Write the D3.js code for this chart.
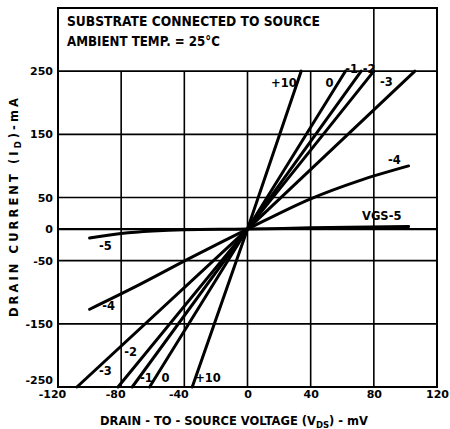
<!DOCTYPE html>
<html>
<head>
<meta charset="utf-8">
<script src="https://cdn.jsdelivr.net/npm/d3@7"></script>
<style>
  body { margin: 0; background: #fff; }
  svg { display: block; }
  text { font-family: "DejaVu Sans", sans-serif; font-weight: bold; fill: #000; }
</style>
</head>
<body>
<svg id="chart" width="450" height="429"></svg>
<script>
// ---- data ----
const vdsTicks = [-120, -80, -40, 0, 40, 80, 120];
const idTicks = [250, 150, 50, 0, -50, -150, -250];
const vgsNames = ["+10", "0", "-1", "-2", "-3", "-4", "-5"];

// [VDS (mV), ID (mA)]
const curveP10 = [[-35, -250], [0, 0], [34, 250]];
const curve0   = [[-62, -250], [0, 0], [62, 250]];
const curveM1  = [[-73, -250], [0, 0], [72, 250]];
const curveM2  = [[-82, -250], [0, 0], [80, 250]];
const curveM3  = [[-108, -250], [0, 0], [106, 250]];
const curveM4  = [[-100, -127], [-70, -90], [-38, -48], [0, 0], [40, 48], [70, 76], [102, 100]];
const curveM5  = [[-100, -14], [-80, -7], [-60, -3], [-40, -1], [0, 0], [40, 2], [102, 4]];

// curve labels: [text, VDS, ID]
const curveLabels = [
  ["+10", 23, 231], ["0", 52, 231], ["-1", 66, 254], ["-2", 77, 254], ["-3", 88, 233],
  ["-4", 93, 109], ["VGS-5", 85, 21],
  ["-5", -90, -27], ["-4", -88, -122], ["-2", -74, -195], ["-3", -90, -225],
  ["-1", -64, -235], ["0", -52, -235], ["+10", -25, -235]
];

const noteLines = ["SUBSTRATE CONNECTED TO SOURCE", "AMBIENT TEMP. = 25°C"];

// ---- chart ----
const svg = d3.select("#chart");
const x = d3.scaleLinear().domain([-120, 120]).range([58, 437]);
const y = d3.scaleLinear().domain([-250, 350]).range([387, 8]);

const g = svg.append("g");

// horizontal grid lines
g.selectAll("line.hgrid").data(idTicks).join("line")
  .attr("class", "hgrid")
  .attr("x1", x(-120)).attr("x2", x(120))
  .attr("y1", d => y(d)).attr("y2", d => y(d))
  .attr("stroke", "#000").attr("stroke-width", d => d === 0 ? 2.2 : 1.6);

// vertical grid lines (interior), 80 extends to top of frame
g.selectAll("line.vgrid").data(vdsTicks.slice(1, -1)).join("line")
  .attr("class", "vgrid")
  .attr("x1", d => x(d)).attr("x2", d => x(d))
  .attr("y1", y(-250)).attr("y2", d => d === 80 ? y(350) : y(250))
  .attr("stroke", "#000").attr("stroke-width", 1.6);

// frame
g.append("rect")
  .attr("x", x(-120)).attr("y", y(350))
  .attr("width", x(120) - x(-120)).attr("height", y(-250) - y(350))
  .attr("fill", "none").attr("stroke", "#000").attr("stroke-width", 2);

// axes (labels only)
const xAxis = d3.axisBottom(x).tickValues(vdsTicks).tickSize(0).tickPadding(3)
  .tickFormat(d => String(d));
const yAxis = d3.axisLeft(y).tickValues(idTicks).tickSize(0).tickPadding(5)
  .tickFormat(d => String(d));

const gx = svg.append("g").attr("transform", `translate(0,${y(-250)})`).call(xAxis);
const gy = svg.append("g").attr("transform", `translate(${x(-120)},0)`).call(yAxis);
[gx, gy].forEach(a => {
  a.select(".domain").remove();
  a.selectAll("text").style("font-family", "'DejaVu Sans', sans-serif")
    .style("font-weight", "bold").style("font-size", "11px").attr("fill", "#000");
});
// negative x labels: digits centred on the grid line, minus sign hangs left
gx.selectAll("text").attr("dx", d => d < 0 ? -6 : 0);
// bottom y label sits just above the bottom edge
gy.selectAll("text").filter(d => d === -250).attr("dy", "-0.3em");

// curves
const line = d3.line().x(d => x(d[0])).y(d => y(d[1])).curve(d3.curveMonotoneX);
const curves = [curveP10, curve0, curveM1, curveM2, curveM3, curveM4, curveM5];
g.selectAll("path.curve").data(curves).join("path")
  .attr("class", "curve")
  .attr("d", line)
  .attr("fill", "none").attr("stroke", "#000").attr("stroke-width", 3)
  .attr("stroke-linecap", "round");

// curve labels
g.selectAll("text.clabel").data(curveLabels).join("text")
  .attr("class", "clabel")
  .attr("x", d => x(d[1])).attr("y", d => y(d[2]))
  .attr("text-anchor", "middle").attr("dominant-baseline", "central")
  .style("font-size", "11.5px")
  .text(d => d[0]);

// note box text
svg.selectAll("text.note").data(noteLines).join("text")
  .attr("class", "note")
  .attr("x", 67).attr("y", (d, i) => 26 + i * 20)
  .attr("textLength", (d, i) => i === 0 ? 253 : 153)
  .attr("lengthAdjust", "spacingAndGlyphs")
  .style("font-size", "13.5px")
  .text(d => d);

// fit a text's width by letter-spacing
function fitWidth(sel, target) {
  const n = sel.text().length;
  const w = sel.node().getComputedTextLength();
  sel.style("letter-spacing", ((target - w) / n) + "px");
}

// y axis title
const yt = svg.append("text")
  .attr("transform", "translate(18,206) rotate(-90)")
  .attr("text-anchor", "middle")
  .style("font-size", "11.5px");
yt.append("tspan").text("DRAIN CURRENT (I");
yt.append("tspan").attr("dy", 3).style("font-size", "8.5px").text("D");
yt.append("tspan").attr("dy", -3).text(")-mA");
fitWidth(yt, 222);

// x axis title
const xt = svg.append("text")
  .attr("x", 234).attr("y", 425)
  .attr("text-anchor", "middle")
  .style("font-size", "11.5px");
xt.append("tspan").text("DRAIN - TO - SOURCE VOLTAGE (V");
xt.append("tspan").attr("dy", 3).style("font-size", "8.5px").text("DS");
xt.append("tspan").attr("dy", -3).text(") - mV");
fitWidth(xt, 268);
</script>
</body>
</html>
